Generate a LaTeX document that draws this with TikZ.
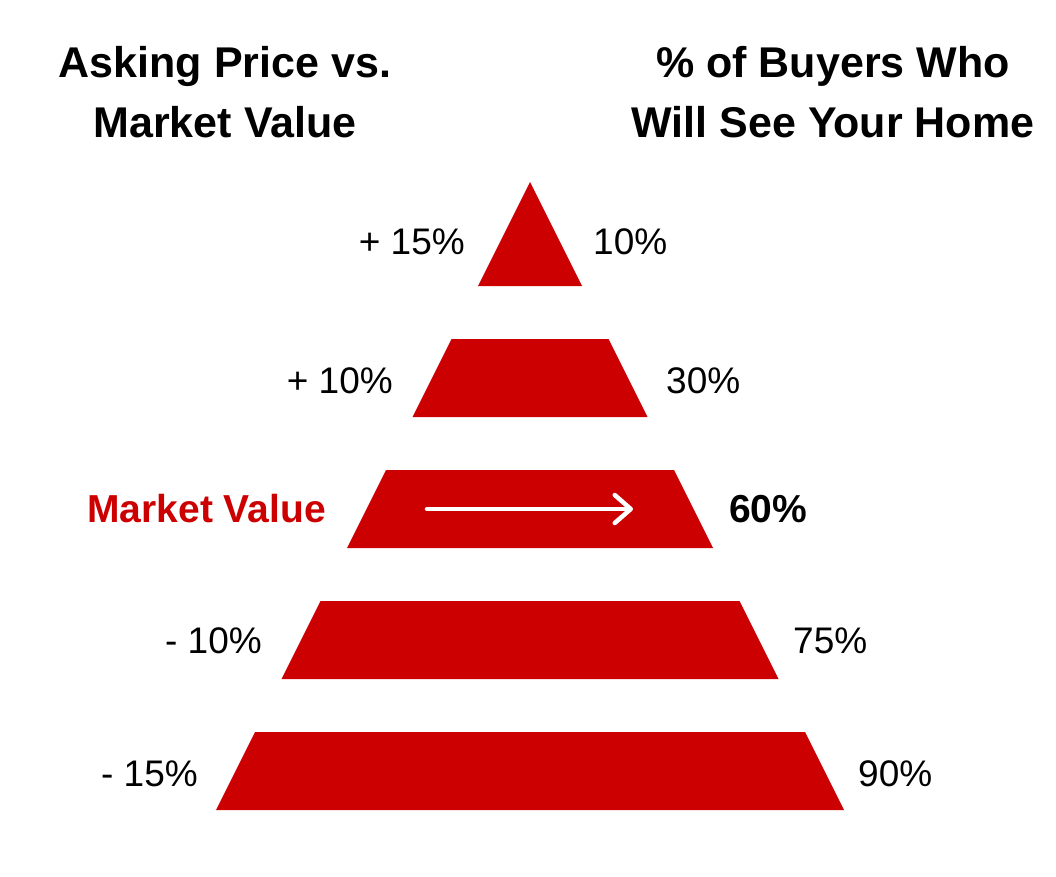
\documentclass[tikz,border=0pt]{standalone}
\usepackage{fontspec}
\setmainfont{Liberation Sans}
\usetikzlibrary{arrows.meta}
\definecolor{pyrred}{HTML}{CC0000}
\begin{document}
\begin{tikzpicture}[x=1pt,y=-1pt,
  slice/.style={fill=pyrred},
  head/.style={font=\fontsize{43}{60}\selectfont\bfseries, inner sep=0pt, anchor=base},
  lab/.style={font=\fontsize{37}{44}\selectfont, inner sep=0pt},
  labb/.style={font=\fontsize{39}{46}\selectfont\bfseries},
  labl/.style={lab, anchor=east},
  labr/.style={lab, anchor=west},
  mvarrow/.style={draw=white, line width=4.5pt, line cap=round,
    -{Straight Barb[length=16pt, width=28pt, line cap=round, line join=round]}}
]
\useasboundingbox (0,0) rectangle (1056,876);
% headings
\node[head] (h1a) at (225,77) {Asking Price vs.};
\node[head] (h1b) at (225,137) {Market Value};
\node[head] (h2a) at (833,77) {\% of Buyers Who};
\node[head] (h2b) at (833,137) {Will See Your Home};
% pyramid slices
\fill[slice] (530,182) -- (582,286) -- (478,286) -- cycle;
\fill[slice] (451.5,339) -- (608.5,339) -- (647.5,417) -- (412.5,417) -- cycle;
\fill[slice] (386,470) -- (674,470) -- (713,548) -- (347,548) -- cycle;
\fill[slice] (320.5,601) -- (739.5,601) -- (778.5,679) -- (281.5,679) -- cycle;
\fill[slice] (255,732) -- (805,732) -- (844,810) -- (216,810) -- cycle;
% left labels
\node[labl] (l1) at (465,242) {+ 15\%};
\node[labl] (l2) at (393,381) {+ 10\%};
\node[labl, labb, text=pyrred] (l3) at (326,509) {Market Value};
\node[labl] (l4) at (262,641) {- 10\%};
\node[labl] (l5) at (198,774) {- 15\%};
% right labels
\node[labr] (r1) at (593,242) {10\%};
\node[labr] (r2) at (666,381) {30\%};
\node[labr, labb] (r3) at (729,509) {60\%};
\node[labr] (r4) at (793,641) {75\%};
\node[labr] (r5) at (858,774) {90\%};
% arrow
\coordinate (as) at (427,509);
\coordinate (ae) at (633,509);
\draw[mvarrow] (as) -- (ae);
\end{tikzpicture}
\end{document}
